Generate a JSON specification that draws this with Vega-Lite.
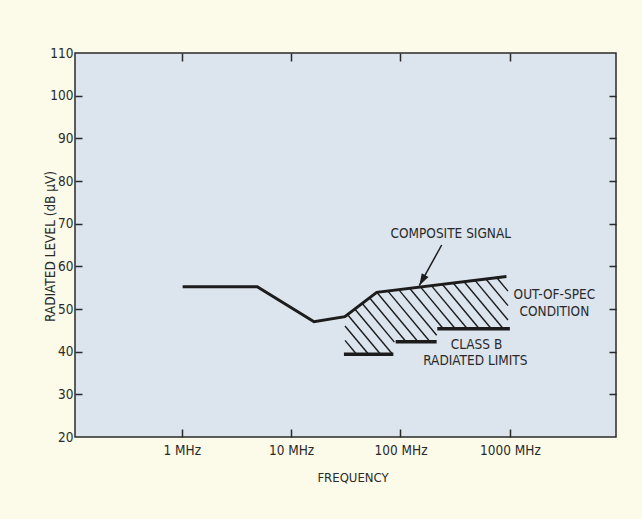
{
  "$schema": "https://vega.github.io/schema/vega-lite/v6.json",
  "width": 541,
  "height": 384,
  "autosize": {"type": "none"},
  "padding": {"left": 75, "top": 53, "right": 26, "bottom": 82},
  "background": "#fcfae8",
  "config": {
    "view": {"fill": "#dce4ed", "stroke": "#2a2a2a", "strokeWidth": 1.5},
    "font": "Liberation Sans Narrow, DejaVu Sans Condensed, Roboto, sans-serif",
    "axis": {
      "grid": false,
      "domain": false,
      "labelFont": "Liberation Sans Narrow, DejaVu Sans Condensed, Roboto, sans-serif",
      "titleFont": "Liberation Sans Narrow, DejaVu Sans Condensed, Roboto, sans-serif",
      "labelFontSize": 13.5,
      "titleFontSize": 13.5,
      "titleFontWeight": "normal",
      "labelColor": "#2a2a2a",
      "titleColor": "#2a2a2a",
      "tickColor": "#2a2a2a",
      "tickWidth": 1.5
    },
    "text": {"font": "Liberation Sans Narrow, DejaVu Sans Condensed, Roboto, sans-serif"}
  },
  "datasets": {
    "composite": [
      {"f": 1.02, "v": 55.2},
      {"f": 4.9, "v": 55.2},
      {"f": 16.2, "v": 47.0},
      {"f": 31, "v": 48.2},
      {"f": 60.6, "v": 53.9},
      {"f": 930, "v": 57.6}
    ],
    "limits": [
      {"f1": 30.4, "f2": 86, "v": 39.4},
      {"f1": 90.4, "f2": 214, "v": 42.3},
      {"f1": 216.9, "f2": 1000, "v": 45.4}
    ],
    "hatch": [
      {"f1": 31.09, "v1": 42.64, "f2": 39.82, "v2": 39.33},
      {"f1": 31.09, "v1": 46.01, "f2": 51.27, "v2": 39.33},
      {"f1": 32.57, "v1": 48.78, "f2": 66.01, "v2": 39.33},
      {"f1": 38.06, "v1": 50.07, "f2": 84.97, "v2": 39.33},
      {"f1": 44.57, "v1": 51.34, "f2": 87.96, "v2": 42.24},
      {"f1": 52.07, "v1": 52.63, "f2": 112.9, "v2": 42.28},
      {"f1": 60.74, "v1": 53.94, "f2": 145.3, "v2": 42.28},
      {"f1": 76.71, "v1": 54.2, "f2": 187.0, "v2": 42.28},
      {"f1": 96.7, "v1": 54.48, "f2": 214.2, "v2": 43.86},
      {"f1": 121.6, "v1": 54.79, "f2": 245.1, "v2": 45.43},
      {"f1": 152.9, "v1": 55.12, "f2": 315.6, "v2": 45.43},
      {"f1": 192.4, "v1": 55.42, "f2": 406.2, "v2": 45.43},
      {"f1": 242.0, "v1": 55.73, "f2": 522.9, "v2": 45.43},
      {"f1": 304.5, "v1": 56.03, "f2": 673.2, "v2": 45.43},
      {"f1": 383.0, "v1": 56.34, "f2": 866.8, "v2": 45.43},
      {"f1": 481.7, "v1": 56.66, "f2": 960.7, "v2": 47.42},
      {"f1": 606.0, "v1": 56.97, "f2": 960.7, "v2": 50.8},
      {"f1": 762.4, "v1": 57.27, "f2": 960.7, "v2": 54.18}
    ],
    "arrow": [
      {"f1": 238, "v1": 65.0, "f2": 148.5, "v2": 55.5}
    ],
    "labels": [
      {"t": "COMPOSITE SIGNAL", "f": 288, "v": 67.5},
      {"t": "OUT-OF-SPEC", "f": 2550, "v": 53.3},
      {"t": "CONDITION", "f": 2550, "v": 49.3},
      {"t": "CLASS B", "f": 495, "v": 41.5},
      {"t": "RADIATED LIMITS", "f": 483, "v": 37.7}
    ]
  },
  "resolve": {"axis": {"x": "independent", "y": "independent"}},
  "layer": [
    {
      "data": {"name": "composite"},
      "mark": {"type": "line", "color": "#1c1c1c", "strokeWidth": 3, "strokeJoin": "miter"},
      "encoding": {
        "x": {
          "field": "f", "type": "quantitative",
          "scale": {"type": "log", "domain": [0.1058, 9333], "nice": false},
          "axis": {
            "orient": "bottom", "values": [1, 10, 100, 1000], "ticks": false,
            "labelPadding": 6,
            "labelExpr": "format(datum.value, 'd') + ' MHz'",
            "title": "FREQUENCY", "titleX": 277.5, "titleY": 40, "titleFontSize": 13,
            "titleBaseline": "middle", "titleAnchor": null
          }
        },
        "y": {
          "field": "v", "type": "quantitative",
          "scale": {"domain": [20, 110], "nice": false, "zero": false},
          "axis": {
            "orient": "left", "values": [20, 30, 40, 50, 60, 70, 80, 90, 100, 110],
            "ticks": false, "labelPadding": 2,
            "title": "RADIATED LEVEL (dB μV)", "titleX": -25, "titleY": 193,
            "titleAngle": 270, "titleBaseline": "middle", "titleAlign": "center"
          }
        }
      }
    },
    {
      "data": {"name": "limits"},
      "mark": {"type": "rule", "color": "#1c1c1c", "strokeWidth": 3.5},
      "encoding": {
        "x": {
          "field": "f1", "type": "quantitative",
          "scale": {"type": "log", "domain": [0.1058, 9333], "nice": false},
          "axis": {"orient": "bottom", "values": [1, 10, 100, 1000], "labels": false, "tickSize": 8, "offset": -8, "title": null}
        },
        "x2": {"field": "f2"},
        "y": {
          "field": "v", "type": "quantitative",
          "scale": {"domain": [20, 110], "nice": false, "zero": false},
          "axis": {"orient": "left", "values": [30, 40, 50, 60, 70, 80, 90, 100], "labels": false, "tickSize": 7, "offset": -7, "title": null}
        }
      }
    },
    {
      "data": {"name": "hatch"},
      "mark": {"type": "rule", "color": "#1c1c1c", "strokeWidth": 1.4},
      "encoding": {
        "x": {
          "field": "f1", "type": "quantitative",
          "scale": {"type": "log", "domain": [0.1058, 9333], "nice": false},
          "axis": {"orient": "top", "values": [1, 10, 100, 1000], "labels": false, "tickSize": 8, "offset": -8, "title": null}
        },
        "x2": {"field": "f2"},
        "y": {
          "field": "v1", "type": "quantitative",
          "scale": {"domain": [20, 110], "nice": false, "zero": false},
          "axis": {"orient": "right", "values": [30, 40, 50, 60, 70, 80, 90, 100], "labels": false, "tickSize": 7, "offset": -7, "title": null}
        },
        "y2": {"field": "v2"}
      }
    },
    {
      "data": {"name": "arrow"},
      "mark": {"type": "rule", "color": "#1c1c1c", "strokeWidth": 1.5},
      "encoding": {
        "x": {"field": "f1", "type": "quantitative", "scale": {"type": "log", "domain": [0.1058, 9333], "nice": false}, "axis": null},
        "x2": {"field": "f2"},
        "y": {"field": "v1", "type": "quantitative", "scale": {"domain": [20, 110], "nice": false, "zero": false}, "axis": null},
        "y2": {"field": "v2"}
      }
    },
    {
      "data": {"name": "arrow"},
      "mark": {"type": "point", "filled": true, "color": "#1c1c1c", "opacity": 1, "shape": "M0,0L-0.32,1L0.32,1Z", "size": 576, "angle": 209.3},
      "encoding": {
        "x": {"field": "f2", "type": "quantitative", "scale": {"type": "log", "domain": [0.1058, 9333], "nice": false}, "axis": null},
        "y": {"field": "v2", "type": "quantitative", "scale": {"domain": [20, 110], "nice": false, "zero": false}, "axis": null}
      }
    },
    {
      "data": {"name": "labels"},
      "mark": {"type": "text", "fontSize": 13.5, "color": "#2a2a2a", "align": "center", "baseline": "middle"},
      "encoding": {
        "x": {"field": "f", "type": "quantitative", "scale": {"type": "log", "domain": [0.1058, 9333], "nice": false}, "axis": null},
        "y": {"field": "v", "type": "quantitative", "scale": {"domain": [20, 110], "nice": false, "zero": false}, "axis": null},
        "text": {"field": "t"}
      }
    }
  ]
}
